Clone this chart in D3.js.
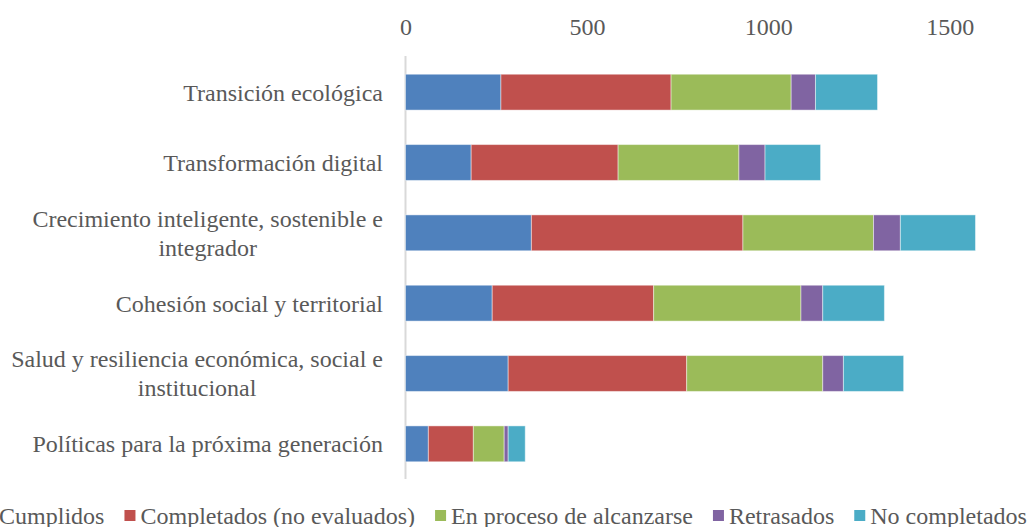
<!DOCTYPE html>
<html>
<head>
<meta charset="utf-8">
<script src="https://cdn.jsdelivr.net/npm/d3@7"></script>
<style>
  body { margin: 0; background: #fff; }
  svg { display: block; font-family: "Liberation Serif", "Times New Roman", serif; }
</style>
</head>
<body>
<div id="chart"></div>
<script>
// ---------------- data ----------------
var categories = [
  "Transición ecológica",
  "Transformación digital",
  "Crecimiento inteligente, sostenible e|integrador",
  "Cohesión social y territorial",
  "Salud y resiliencia económica, social e|institucional",
  "Políticas para la próxima generación"
];
var seriesNames = ["Cumplidos", "Completados (no evaluados)", "En proceso de alcanzarse", "Retrasados", "No completados"];
var cumplidos   = [263, 181, 347, 239, 283, 63];
var completados = [469, 405, 583, 445, 492, 124];
var enProceso   = [331, 333, 360, 406, 375, 85];
var retrasados  = [67, 72, 74, 60, 57, 11];
var noCompletados = [171, 153, 207, 170, 166, 47];
var xTicks = [0, 500, 1000, 1500];

var colors = ["#4F81BD", "#C0504D", "#9BBB59", "#8064A2", "#4BACC6"];
var textColor = "#595959";

// build rows for the stack
var rows = categories.map(function(c, i) {
  return {
    cat: c,
    "Cumplidos": cumplidos[i],
    "Completados (no evaluados)": completados[i],
    "En proceso de alcanzarse": enProceso[i],
    "Retrasados": retrasados[i],
    "No completados": noCompletados[i]
  };
});

// ---------------- canvas ----------------
var width = 1028, height = 527;
var svg = d3.select("#chart").append("svg")
  .attr("width", width)
  .attr("height", height);

var x = d3.scaleLinear().domain([0, 1600]).range([405.5, 986]);
var y = d3.scaleBand().domain(categories).range([57, 479]).paddingInner(0.49).paddingOuter(0.245);

var stack = d3.stack().keys(seriesNames)(rows);

// value axis on top, labels only
var xAxis = svg.append("g")
  .attr("transform", "translate(0, 35)")
  .call(d3.axisTop(x).tickValues(xTicks).tickFormat(d3.format("d")).tickSize(0).tickPadding(0));
xAxis.select(".domain").remove();
xAxis.selectAll("text")
  .attr("font-family", "Liberation Serif, serif")
  .attr("font-size", 24)
  .attr("fill", textColor)
  .attr("dy", 0);

// category axis line
svg.append("line")
  .attr("x1", x(0)).attr("x2", x(0))
  .attr("y1", 56).attr("y2", 479)
  .attr("stroke", "#d9d9d9")
  .attr("stroke-width", 2);

// bars
svg.append("g").selectAll("g")
  .data(stack)
  .enter().append("g")
    .attr("fill", function(d, i) { return colors[i]; })
  .selectAll("rect")
  .data(function(d) { return d; })
  .enter().append("rect")
    .attr("x", function(d) { return x(d[0]); })
    .attr("width", function(d) { return x(d[1]) - x(d[0]); })
    .attr("y", function(d) { return y(d.data.cat); })
    .attr("height", y.bandwidth())
    .attr("stroke", "rgba(255,255,255,0.45)")
    .attr("stroke-width", 1);

// category labels (multi-line centred as a block, block right-aligned)
var labelRight = 383;
categories.forEach(function(c) {
  var lines = c.split("|");
  var g = svg.append("g");
  var cy = y(c) + y.bandwidth() / 2;
  var lh = 29;
  var texts = lines.map(function(l, k) {
    return g.append("text")
      .attr("y", cy + (k - (lines.length - 1) / 2) * lh)
      .attr("dy", "0.35em")
      .attr("font-size", 24)
      .attr("fill", textColor)
      .text(l);
  });
  var maxW = d3.max(texts, function(t) { return t.node().getComputedTextLength(); });
  texts.forEach(function(t) {
    t.attr("x", labelRight - maxW / 2).attr("text-anchor", "middle");
  });
});

// legend
var legend = svg.append("g");
var items = seriesNames.map(function(name, i) {
  var g = legend.append("g");
  g.append("rect").attr("width", 11).attr("height", 11).attr("y", -6).attr("fill", colors[i]);
  var t = g.append("text").attr("x", 16).attr("dy", "0.35em")
    .attr("font-size", 24).attr("fill", textColor).text(name);
  return { g: g, w: 16 + t.node().getComputedTextLength() };
});
var gap = 20;
var total = d3.sum(items, function(d) { return d.w; }) + gap * (items.length - 1);
var lx = 505 - total / 2;
items.forEach(function(it) {
  it.g.attr("transform", "translate(" + lx + ", 516)");
  lx += it.w + gap;
});
</script>
</body>
</html>
